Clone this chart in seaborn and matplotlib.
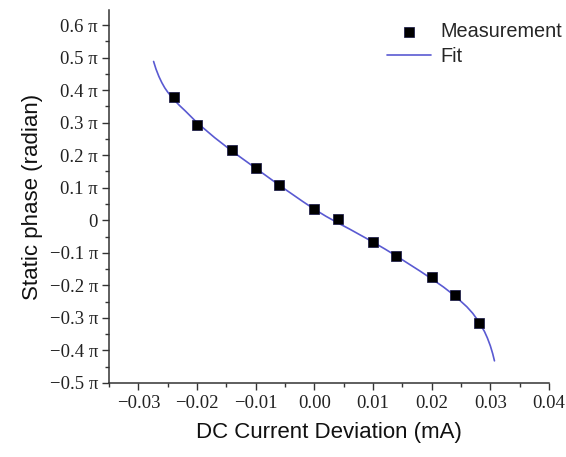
import numpy as np
import pandas as pd
import matplotlib
matplotlib.use("Agg")
import matplotlib.pyplot as plt
import seaborn as sns
from matplotlib.ticker import MultipleLocator

# Measurement data (phase in units of pi)
meas_x = [-0.024, -0.020, -0.014, -0.010, -0.006, 0.000, 0.004, 0.010, 0.014, 0.020, 0.024, 0.028]
meas_y = [0.379, 0.293, 0.215, 0.162, 0.109, 0.035, 0.004, -0.068, -0.111, -0.175, -0.231, -0.317]

# Fit curve (phase in units of pi)
fit_x = [-0.0274, -0.0270, -0.0265, -0.0260, -0.0255, -0.0250, -0.0240, -0.0230, -0.0220,
         -0.0200, -0.0170, -0.0140, -0.0120, -0.0100, -0.0080, -0.0060, -0.0040, -0.0020,
         0.0000, 0.0020, 0.0040, 0.0060, 0.0080, 0.0100, 0.0120, 0.0140, 0.0160, 0.0180,
         0.0200, 0.0220, 0.0240, 0.0260, 0.0270, 0.0280, 0.0290, 0.0295, 0.0300, 0.0304, 0.0307]
fit_y = [0.488, 0.465, 0.442, 0.423, 0.407, 0.394, 0.372, 0.353, 0.336,
         0.300, 0.254, 0.212, 0.186, 0.160, 0.134, 0.108, 0.083, 0.058,
         0.034, 0.012, -0.008, -0.027, -0.047, -0.067, -0.088, -0.110, -0.133, -0.156,
         -0.180, -0.205, -0.233, -0.266, -0.286, -0.311, -0.342, -0.362, -0.386, -0.410, -0.432]

y_ticks = [-0.5, -0.4, -0.3, -0.2, -0.1, 0.0, 0.1, 0.2, 0.3, 0.4, 0.5, 0.6]
x_ticks = [-0.03, -0.02, -0.01, 0.00, 0.01, 0.02, 0.03, 0.04]

sns.set_style("ticks")
plt.rcParams["font.family"] = ["Liberation Sans", "DejaVu Sans"]

fig = plt.figure(figsize=(5.66, 4.57), dpi=100)
ax = fig.add_axes([0.1926, 0.162, 0.7774, 0.816])

df_fit = pd.DataFrame({"x": fit_x, "y": np.array(fit_y) * np.pi})
df_meas = pd.DataFrame({"x": meas_x, "y": np.array(meas_y) * np.pi})

sns.lineplot(data=df_fit, x="x", y="y", ax=ax, color="#5a5ad2", linewidth=1.2,
             sort=False, label="Fit")
sns.scatterplot(data=df_meas, x="x", y="y", ax=ax, marker="s", color="black",
                edgecolor="#101040", linewidth=0.5, s=48, label="Measurement", zorder=3)

ax.set_xlim(-0.035, 0.04)
ax.set_ylim(-0.5 * np.pi, 0.646 * np.pi)

ax.set_xticks(x_ticks)
ax.set_xticklabels([("0.00" if v == 0 else f"{v:.2f}".replace("-", "\u2212")) for v in x_ticks])
ax.xaxis.set_minor_locator(MultipleLocator(0.005))

ax.set_yticks([v * np.pi for v in y_ticks])
def ylab(v):
    if abs(v) < 1e-9:
        return "0"
    return f"{v:.1f} \u03c0".replace("-", "\u2212")
ax.set_yticklabels([ylab(v) for v in y_ticks])
ax.yaxis.set_minor_locator(MultipleLocator(0.05 * np.pi))

for lab in ax.get_xticklabels() + ax.get_yticklabels():
    lab.set_family(["Liberation Serif", "DejaVu Serif"])
    lab.set_fontsize(13.5)
    lab.set_color("#222222")

ax.tick_params(which="major", direction="out", length=5, width=1.0, color="#333333")
ax.tick_params(which="minor", direction="out", length=3, width=1.0, color="#333333")
ax.tick_params(axis="x", which="major", pad=4)
ax.tick_params(axis="y", which="major", pad=3)

for side in ["top", "right"]:
    ax.spines[side].set_visible(False)
for side in ["left", "bottom"]:
    ax.spines[side].set_linewidth(1.1)
    ax.spines[side].set_color("#333333")

ax.set_xlabel("DC Current Deviation (mA)", fontsize=16, labelpad=7, color="#111111")
ax.set_ylabel("Static phase (radian)", fontsize=16, labelpad=5, color="#111111")

handles, labels = ax.get_legend_handles_labels()
order = [labels.index("Measurement"), labels.index("Fit")]
ax.legend([handles[i] for i in order], [labels[i] for i in order],
          loc="upper right", bbox_to_anchor=(1.056, 1.0), frameon=False,
          fontsize=14.3, handlelength=2.2, handletextpad=0.45, labelspacing=0.32,
          borderaxespad=0.2)

fig.savefig("out.png", dpi=100)
